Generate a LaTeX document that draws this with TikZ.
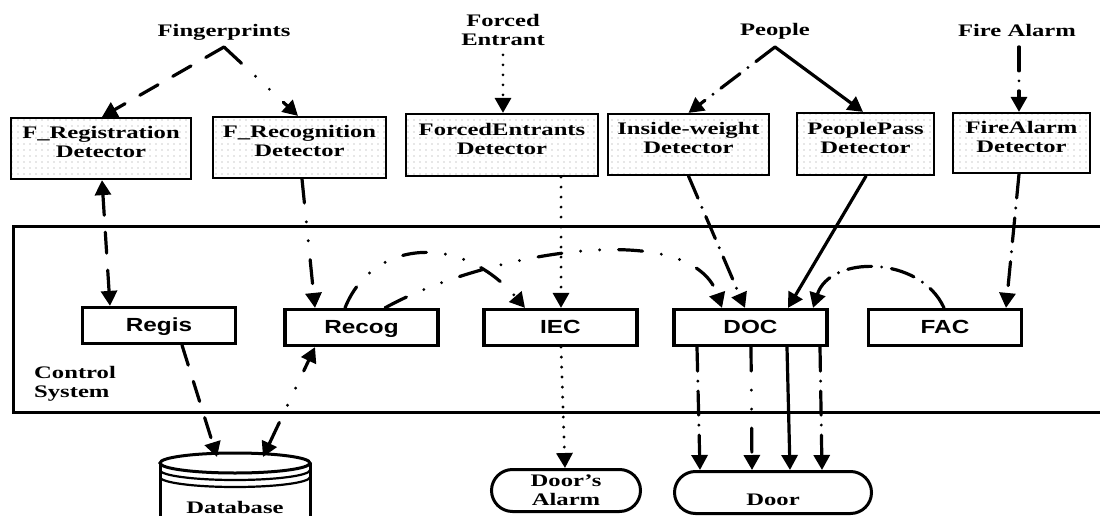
\documentclass[tikz,border=0pt]{standalone}
\usepackage{fontspec}
\newfontfamily\serf[FakeStretch=1.4]{Liberation Serif}
\newfontfamily\sanf[FakeStretch=1.28]{Liberation Sans}
\usetikzlibrary{arrows.meta,patterns.meta}
\tikzset{
  every node/.style={inner sep=0pt},
  serifB/.style={font=\serf\bfseries\fontsize{17.6}{19}\selectfont},
  det/.style={draw, line width=2.2pt, pattern={Dots[distance=6pt, radius=0.6pt]}, pattern color=black!40},
  dtext/.style={serifB, align=center},
  ctl/.style={draw, line width=3.2pt, minimum width=153pt, minimum height=36pt,
    font=\sanf\bfseries\fontsize{19}{20}\selectfont, text height=13.5pt, text depth=2pt},
  term/.style={draw, line width=3pt, rounded corners=21pt, serifB, align=center},
  cn/.style={line width=3.2pt, line cap=round, -{Triangle[length=15pt,width=16pt]}},
  bicn/.style={line width=3.2pt, line cap=round, {Triangle[length=15pt,width=16pt]}-{Triangle[length=15pt,width=16pt]}},
  dsh/.style={dash pattern=on 21pt off 17pt},
  dd/.style={dash pattern=on 24pt off 10pt on 0pt off 10pt},
  ddd/.style={dash pattern=on 24pt off 19pt on 0pt off 19pt on 0pt off 19pt},
  dtt/.style={dash pattern=on 0pt off 10pt},
}
\begin{document}
\begin{tikzpicture}[x=1pt,y=-1pt]
\useasboundingbox (0,0) rectangle (1100,516);
\clip (0,0) rectangle (1100,516);

% control system frame
\draw[line width=3pt] (13,226) rectangle (1115,412);
\node[serifB, align=left, anchor=west] (cs) at (34,384) {Control\\System};

% source labels
\node[serifB, anchor=base] (fing) at (224,36.5) {Fingerprints};
\node[serifB, align=center] (forced) at (503,30) {Forced\\Entrant};
\node[serifB, anchor=base] (people) at (775,36) {People};
\node[serifB, anchor=base] (fire) at (1017,36.5) {Fire Alarm};
\coordinate (fpa) at (224,47);
\coordinate (ppa) at (775,47);

% detectors
\node[det, minimum width=180pt, minimum height=61pt] (freg) at (101,148.5) {};
\node[dtext] (fregT) at ([yshift=6.5pt]freg.center) {F\_Registration\\Detector};
\node[det, minimum width=173pt, minimum height=61pt] (frec) at (299.5,147.5) {};
\node[dtext] (frecT) at ([yshift=6.5pt]frec.center) {F\_Recognition\\Detector};
\node[det, minimum width=192pt, minimum height=62pt] (fent) at (502,145) {};
\node[dtext] (fentT) at ([yshift=6.5pt]fent.center) {ForcedEntrants\\Detector};
\node[det, minimum width=161pt, minimum height=61pt] (fiw) at (688.5,144.5) {};
\node[dtext] (fiwT) at ([yshift=6.5pt]fiw.center) {Inside-weight\\Detector};
\node[det, minimum width=137pt, minimum height=62pt] (fpp) at (865.5,144) {};
\node[dtext] (fppT) at ([yshift=6.5pt]fpp.center) {PeoplePass\\Detector};
\node[det, minimum width=137pt, minimum height=60pt] (ffa) at (1021.5,143) {};
\node[dtext] (ffaT) at ([yshift=6.5pt]ffa.center) {FireAlarm\\Detector};

% controllers
\node[ctl] (regis) at (159,325.5) {Regis};
\node[ctl] (recog) at (361.5,327.5) {Recog};
\node[ctl] (iec) at (560.5,327.5) {IEC};
\node[ctl] (doc) at (750.5,327.5) {DOC};
\node[ctl] (fac) at (945,327.5) {FAC};

% terminals
\node[term, minimum width=149pt, minimum height=42pt] (alarm) at (566,490.5) {Door’s\\Alarm};
\node[term, minimum width=197pt, minimum height=42pt, text height=25pt, text depth=0pt] (door) at (773,492.5) {Door};

% database
\draw[line width=3pt] (160,463) -- (160,530) (310,463) -- (310,530);
\draw[line width=3pt] (235,463) ellipse [x radius=75, y radius=10];
\draw[line width=2.2pt] (160,470) arc[start angle=180, end angle=0, x radius=75, y radius=10];
\draw[line width=2.2pt] (160,477) arc[start angle=180, end angle=0, x radius=75, y radius=10];
\node[serifB, anchor=base] (db) at (235,513) {Database};
\coordinate (dbL) at (217,457);
\coordinate (dbR) at (263,457);

% inputs
\draw[cn,dsh] (fpa) -- ([xshift=1pt]freg.north);
\draw[cn,ddd] (fpa) -- ([xshift=-1.5pt]frec.north);
\draw[cn,dtt] ([yshift=-9pt]forced.south) -- (forced.south |- fent.north);
\draw[cn,dd] (ppa) -- (fiw.north);
\draw[cn] (ppa) -- ([xshift=-2.5pt]fpp.north);
\draw[cn,dd] ([xshift=2pt,yshift=-10pt]fire.south) -- ([xshift=-2.5pt]ffa.north);

% detectors to controllers
\draw[bicn,dsh] ([xshift=1pt]freg.south) -- ([xshift=-49pt]regis.north);
\draw[cn,ddd] ([xshift=2.5pt]frec.south) -- ([xshift=-46.5pt]recog.north);
\draw[cn,dtt] ([xshift=59pt]fent.south) -- ([xshift=0.5pt]iec.north);
\draw[cn,dd] (fiw.south) -- ([xshift=-5.5pt]doc.north);
\draw[cn] ([xshift=0.5pt]fpp.south) -- ([xshift=37.5pt]doc.north);
\draw[cn,dd] ([xshift=-2.5pt]ffa.south) -- ([xshift=61pt]fac.north);

% controller to controller curves
\draw[cn,ddd] ([xshift=-16.5pt]recog.north) .. controls (372,240) and (460,232) .. ([xshift=-35.5pt]iec.north);
\draw[cn,ddd] ([xshift=23.5pt]recog.north) .. controls (480,255) and (690,215) .. ([xshift=-28.5pt]doc.north);
\draw[cn,dd] ([xshift=-1pt]fac.north) .. controls (920,255) and (830,255) .. ([xshift=62.5pt]doc.north);

% outputs
\draw[cn,dsh] ([xshift=23pt]regis.south) -- (dbL);
\draw[bicn,ddd] (dbR) -- ([xshift=-46.5pt]recog.south);
\draw[cn,dtt] ([xshift=0.5pt]iec.south) -- ([xshift=-1pt]alarm.north);
\draw[cn,dd] ([xshift=-53.5pt]doc.south) -- ([xshift=-73pt]door.north);
\draw[cn,ddd] ([xshift=0.5pt]doc.south) -- ([xshift=-21pt]door.north);
\draw[cn] ([xshift=36.5pt]doc.south) -- ([xshift=17pt]door.north);
\draw[cn,dd] ([xshift=69.5pt]doc.south) -- ([xshift=49pt]door.north);
\end{tikzpicture}
\end{document}
